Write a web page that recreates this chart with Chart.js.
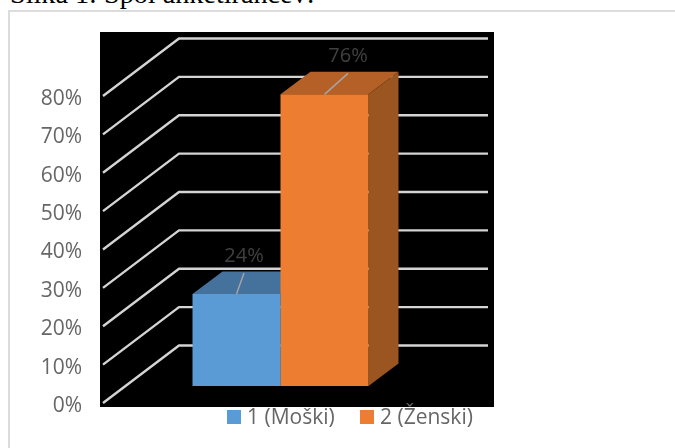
<!DOCTYPE html>
<html>
<head>
<meta charset="utf-8">
<style>
    html, body { margin: 0; padding: 0; background: #fff; overflow: hidden; }
    #title { position: absolute; left: 10px; top: -22px; font: 28.2px "Liberation Serif", serif; color: #000; white-space: nowrap; }
    #frame { position: absolute; left: 8px; top: 10px; width: 700px; height: 500px; border: 2px solid #dcdcdc; box-sizing: border-box; }
    #wrap { position: absolute; left: 0; top: 0; width: 675px; height: 448px; }
</style>
</head>
<body>
<div id="title">Slika 1: Spol anketirancev:</div>
<div id="frame"></div>
<div id="wrap"><canvas id="myChart" width="675" height="448"></canvas></div>
<script src="https://cdn.jsdelivr.net/npm/chart.js@4/dist/chart.umd.js"></script>
<script>
const categories = ["Spol"];
const seriesNames = ["1 (Moški)", "2 (Ženski)"];
const moski = [24];
const zenski = [76];
const tickValues = [0, 10, 20, 30, 40, 50, 60, 70, 80];

const labelFont = '"Open Sans", sans-serif';

// Fake 3D look: black wall, bent gridlines, top and side faces of the bars
const depthPlugin = {
    id: "depth",
    beforeDraw(chart) {
        const a = chart.chartArea;
        const ctx = chart.ctx;
        ctx.fillStyle = "#000";
        ctx.fillRect(a.left, a.top, 494 - a.left, a.bottom - a.top);
    },
    beforeDatasetsDraw(chart) {
        const ctx = chart.ctx;
        const y = chart.scales.y;
        ctx.save();
        ctx.strokeStyle = "#d4d4d4";
        ctx.lineWidth = 2.4;
        tickValues.forEach(v => {
            const py = y.getPixelForValue(v);
            ctx.beginPath();
            ctx.moveTo(103, py);
            ctx.lineTo(179, py - 57.5);
            ctx.lineTo(488, py - 57.5);
            ctx.stroke();
        });
        const dx = 30, dy = 22.5;
        const face = (pts, color) => {
            ctx.fillStyle = color;
            ctx.beginPath();
            pts.forEach((p, i) => i ? ctx.lineTo(p[0], p[1]) : ctx.moveTo(p[0], p[1]));
            ctx.closePath();
            ctx.fill();
        };
        const topColors = ["#44729d", "#b56026"];
        const sideColors = ["#3d6a94", "#9b5520"];
        chart.data.datasets.forEach((ds, i) => {
            const bar = chart.getDatasetMeta(i).data[0];
            const l = bar.x - bar.width / 2, r = bar.x + bar.width / 2;
            face([[l, bar.y], [l + dx, bar.y - dy], [r + dx, bar.y - dy], [r, bar.y]], topColors[i]);
            face([[r, bar.y], [r + dx, bar.y - dy], [r + dx, bar.base - dy], [r, bar.base]], sideColors[i]);
        });
        ctx.restore();
    },
    afterDatasetsDraw(chart) {
        const ctx = chart.ctx;
        const leanX = [7.5, 23.5];
        ctx.save();
        ctx.textBaseline = "middle";
        chart.data.datasets.forEach((ds, i) => {
            const bar = chart.getDatasetMeta(i).data[0];
            ctx.strokeStyle = "#a6a6a6";
            ctx.lineWidth = 1.4;
            ctx.beginPath();
            ctx.moveTo(bar.x, bar.y);
            ctx.lineTo(bar.x + leanX[i], bar.y - 21);
            ctx.stroke();
            ctx.font = "20px " + labelFont;
            ctx.textAlign = "center";
            ctx.fillStyle = "#404040";
            ctx.fillText(ds.data[0] + "%", bar.x + leanX[i], bar.y - 38);
        });
        // legend under the wall
        const boxX = [227, 360];
        chart.data.datasets.forEach((ds, i) => {
            ctx.fillStyle = ds.backgroundColor;
            ctx.fillRect(boxX[i], 410, 14, 14);
            ctx.font = "21px " + labelFont;
            ctx.fillStyle = "#666";
            ctx.textAlign = "left";
            ctx.fillText(ds.label, boxX[i] + 20, 418);
        });
        ctx.restore();
    }
};

new Chart(document.getElementById("myChart").getContext("2d"), {
    type: "bar",
    data: {
        labels: categories,
        datasets: [
            { label: seriesNames[0], data: moski, backgroundColor: "#5b9bd5", yAxisID: "yBar" },
            { label: seriesNames[1], data: zenski, backgroundColor: "#ed7d31", yAxisID: "yBar" }
        ]
    },
    options: {
        responsive: false,
        animation: false,
        layout: { padding: { top: 32, bottom: 41, left: 0, right: 214 } },
        categoryPercentage: 0.4875,
        barPercentage: 1,
        plugins: { legend: { display: false }, tooltip: { enabled: false } },
        scales: {
            x: { display: false },
            y: {
                min: -1.04,
                max: 96.68,
                afterBuildTicks: scale => { scale.ticks = tickValues.map(v => ({ value: v })); },
                afterFit: scale => { scale.width = 100; },
                grid: { display: false },
                border: { display: false },
                ticks: {
                    padding: 10,
                    labelOffset: 3,
                    color: "#666",
                    font: { family: labelFont, size: 21 },
                    callback: v => v + "%"
                }
            },
            // the bars stand on the middle of the floor, so they get their own shifted axis
            yBar: { display: false, min: -5.47, max: 92.25 }
        }
    },
    plugins: [depthPlugin]
});
</script>
</body>
</html>
